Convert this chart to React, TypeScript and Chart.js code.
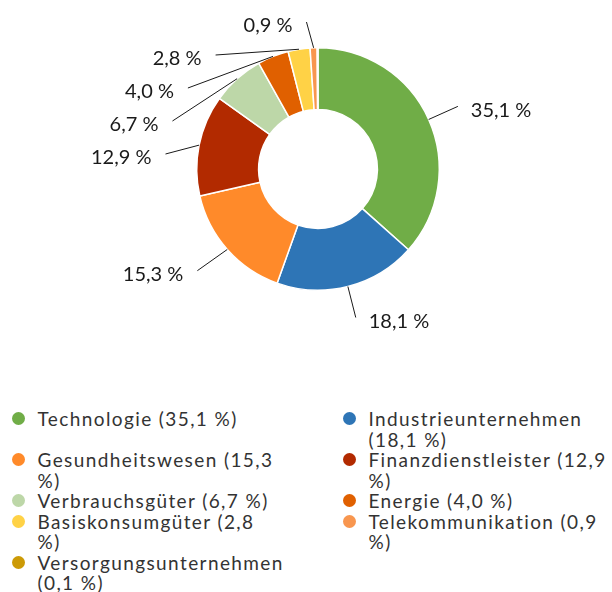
import React, { useEffect, useRef } from "react";
import { Chart, registerables } from "chart.js";

Chart.register(...registerables);

const categories = [
  "Technologie",
  "Industrieunternehmen",
  "Gesundheitswesen",
  "Finanzdienstleister",
  "Verbrauchsgüter",
  "Energie",
  "Basiskonsumgüter",
  "Telekommunikation",
  "Versorgungsunternehmen",
];
const values = [35.1, 18.1, 15.3, 12.9, 6.7, 4.0, 2.8, 0.9, 0.1];
const colors = [
  "#70AD47",
  "#2E75B6",
  "#FF8A2A",
  "#B22A00",
  "#BDD7A8",
  "#E06000",
  "#FFD246",
  "#F8964F",
  "#CC9A06",
];
const minLabelValue = 0.5;

const FONT = "Lato, 'Open Sans', sans-serif";
const fmt = (v: number) => v.toFixed(1).replace(".", ",") + "\u00A0%";

const LABEL_DIST = 32;
const LABEL_GAP = 33;
const LABEL_MIN_Y = 22;

const outLabels = {
  id: "outLabels",
  afterDatasetsDraw(chart: any) {
    const meta = chart.getDatasetMeta(0);
    const ctx = chart.ctx as CanvasRenderingContext2D;
    const items: any[] = [];
    meta.data.forEach((arc: any, i: number) => {
      if (values[i] < minLabelValue) return;
      const p = arc.getProps(["x", "y", "startAngle", "endAngle", "outerRadius"], true);
      const mid = (p.startAngle + p.endAngle) / 2;
      const R = p.outerRadius + LABEL_DIST;
      items.push({
        i,
        mid,
        cx: p.x,
        cy: p.y,
        r: p.outerRadius,
        R,
        left: Math.cos(mid) < 0,
        natX: p.x + R * Math.cos(mid),
        natY: p.y + R * Math.sin(mid),
      });
    });
    const maxY = chart.height - 20;
    [true, false].forEach((side) => {
      const list = items.filter((it) => it.left === side).sort((a, b) => a.natY - b.natY);
      let prev = -Infinity;
      list.forEach((it) => {
        it.y = Math.max(it.natY, prev + LABEL_GAP, LABEL_MIN_Y);
        prev = it.y;
      });
      let next = Infinity;
      for (let k = list.length - 1; k >= 0; k--) {
        const it = list[k];
        it.y = Math.min(it.y, next - LABEL_GAP, maxY);
        next = it.y;
      }
    });
    ctx.save();
    ctx.font = "20px " + FONT;
    ctx.fillStyle = "#1a1a1a";
    ctx.strokeStyle = "#1a1a1a";
    ctx.lineWidth = 1;
    ctx.textBaseline = "middle";
    items.forEach((it) => {
      const dy = it.y - it.cy;
      let x: number;
      if (Math.abs(it.y - it.natY) < 8) x = it.natX - (it.left ? 6 : 0);
      else {
        const h = Math.sqrt(Math.max(it.R * it.R - dy * dy, 0));
        x = it.cx + (it.left ? -h : h);
      }
      const sx = it.cx + it.r * Math.cos(it.mid);
      const sy = it.cy + it.r * Math.sin(it.mid);
      ctx.beginPath();
      ctx.moveTo(sx, sy);
      ctx.lineTo(x, it.y);
      ctx.stroke();
      ctx.textAlign = it.left ? "right" : "left";
      ctx.fillText(fmt(values[it.i]), x + (it.left ? -14 : 13), it.y + 4);
    });
    ctx.restore();
  },
};

export default function App() {
  const ref = useRef<HTMLCanvasElement>(null);
  useEffect(() => {
    if (!ref.current) return;
    const chart = new Chart(ref.current, {
      type: "doughnut",
      data: {
        labels: categories,
        datasets: [
          {
            data: values,
            backgroundColor: colors,
            borderColor: "#ffffff",
            borderWidth: 1.5,
          },
        ],
      },
      options: {
        animation: false,
        responsive: false,
        cutout: "49%",
        layout: { padding: { left: 196, right: 172, top: 47, bottom: 109 } },
        plugins: { legend: { display: false }, tooltip: { enabled: false } },
      },
      plugins: [outLabels],
    });
    return () => chart.destroy();
  }, []);

  return (
    <div style={{ position: "absolute", left: 0, top: 0, width: 612, height: 592, background: "#fff", overflow: "hidden" }}>
      <canvas ref={ref} width={612} height={400} style={{ display: "block", width: 612, height: 400 }} />
      <div
        style={{
          position: "absolute",
          left: 12,
          top: 409,
          display: "grid",
          gridTemplateColumns: "331px 269px",
          fontFamily: FONT,
          fontSize: 19,
          letterSpacing: "1.4px",
          lineHeight: "20.5px",
          color: "#333",
        }}
      >
        {categories.map((c, i) => (
          <div key={c} style={{ display: "flex", alignItems: "flex-start" }}>
            <span
              style={{
                flex: "0 0 13px",
                width: 13,
                height: 13,
                borderRadius: "50%",
                background: colors[i],
                marginTop: 3,
                marginRight: 12.5,
              }}
            />
            <span style={{ width: i % 2 === 0 ? 238 : 247 }}>{`${c} (${fmt(values[i]).replace("\u00A0", " ")})`}</span>
          </div>
        ))}
      </div>
    </div>
  );
}
